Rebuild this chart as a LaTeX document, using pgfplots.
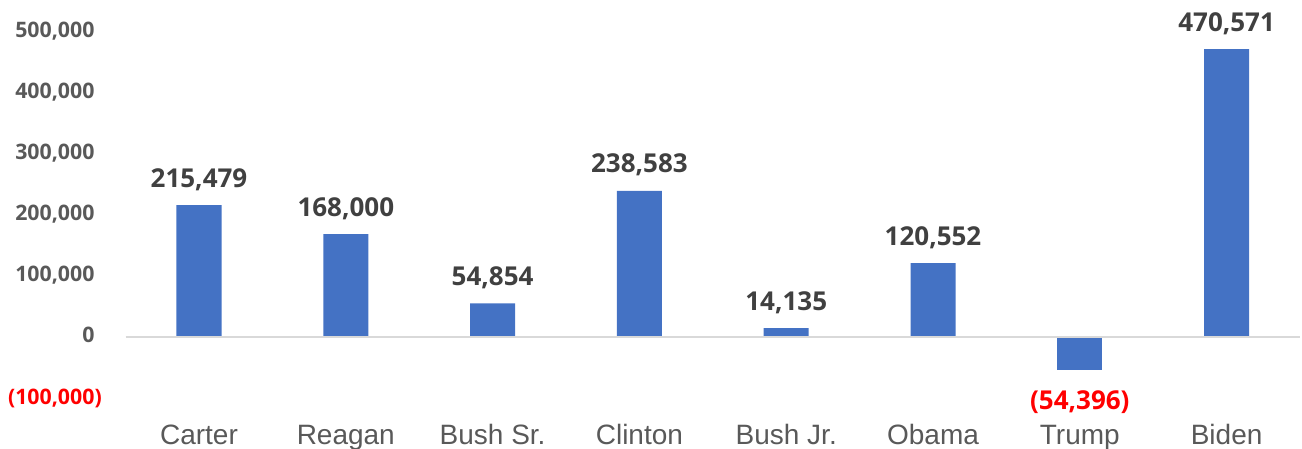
\documentclass[border=0pt]{standalone}
\usepackage{fontspec}
\usepackage{pgfplots}
\pgfplotsset{compat=1.18}
\newfontfamily\opensans{Open Sans}
\newfontfamily\arialf{Liberation Sans}
\definecolor{barblue}{HTML}{4472C4}
\definecolor{tickgray}{HTML}{595959}
\definecolor{labelgray}{HTML}{404040}
\definecolor{zerogray}{HTML}{D9D9D9}
\definecolor{negred}{HTML}{FF0000}
\begin{document}
\begin{tikzpicture}
\useasboundingbox (-94.2pt,-38.25pt) rectangle (882.3pt,298.5pt);
\begin{axis}[
  at={(0,0)}, anchor=south west,
  scale only axis, width=880.8pt, height=275.25pt,
  xmin=-0.5, xmax=7.5, ymin=-100000, ymax=500000,
  scaled y ticks=false,
  axis line style={draw=none}, major tick length=0pt,
  xtick={0,...,7},
  xticklabels={Carter,Reagan,Bush Sr.,Clinton,Bush Jr.,Obama,Trump,Biden},
  xticklabel style={font=\arialf\fontsize{21pt}{24pt}\selectfont, text=tickgray, anchor=base, inner sep=0pt, yshift=-35.25pt},
  ytick={-100000,0,...,500000},
  yticklabels={{\color{negred}(100,000)},{0\phantom{)}},{100,000\phantom{)}},{200,000\phantom{)}},{300,000\phantom{)}},{400,000\phantom{)}},{500,000\phantom{)}}},
  yticklabel style={font=\opensans\bfseries\fontsize{16pt}{18pt}\selectfont, text=tickgray, anchor=east, inner sep=0pt, xshift=-17.7pt},
  ybar, bar width=33.75pt, bar shift=0pt,
  clip=false,
  /pgf/number format/.cd, fixed, precision=0, 1000 sep={,}, assume math mode=true,
]
\addplot[fill=barblue, draw=none,
  nodes near coords={\pgfmathprintnumber[assume math mode=true,fixed,precision=0,1000 sep={,}]{\pgfplotspointmeta}}, point meta=explicit,
  every node near coord/.append style={font=\opensans\bfseries\fontsize{19.5pt}{22pt}\selectfont, text=labelgray, anchor=base, inner sep=0pt, yshift=13.5pt}]
  coordinates {
    (0,215479) [215479]
    (1,168000) [168000]
    (2,54854) [54854]
    (3,238583) [238583]
    (4,14135) [14135]
    (5,120552) [120552]
    (7,470571) [470571]
  };
\addplot[fill=barblue, draw=none,
  nodes near coords={(\pgfmathprintnumber[assume math mode=true,fixed,precision=0,1000 sep={,}]{\pgfplotspointmeta})}, point meta=explicit,
  every node near coord/.append style={font=\opensans\bfseries\fontsize{19.5pt}{22pt}\selectfont, text=negred, anchor=north, inner sep=0pt, yshift=-15pt}]
  coordinates {
    (6,-54396) [54396]
  };
\draw[zerogray, line width=1.5pt] (axis cs:-0.5,0) -- (axis cs:7.5,0);
\end{axis}
\end{tikzpicture}
\end{document}
